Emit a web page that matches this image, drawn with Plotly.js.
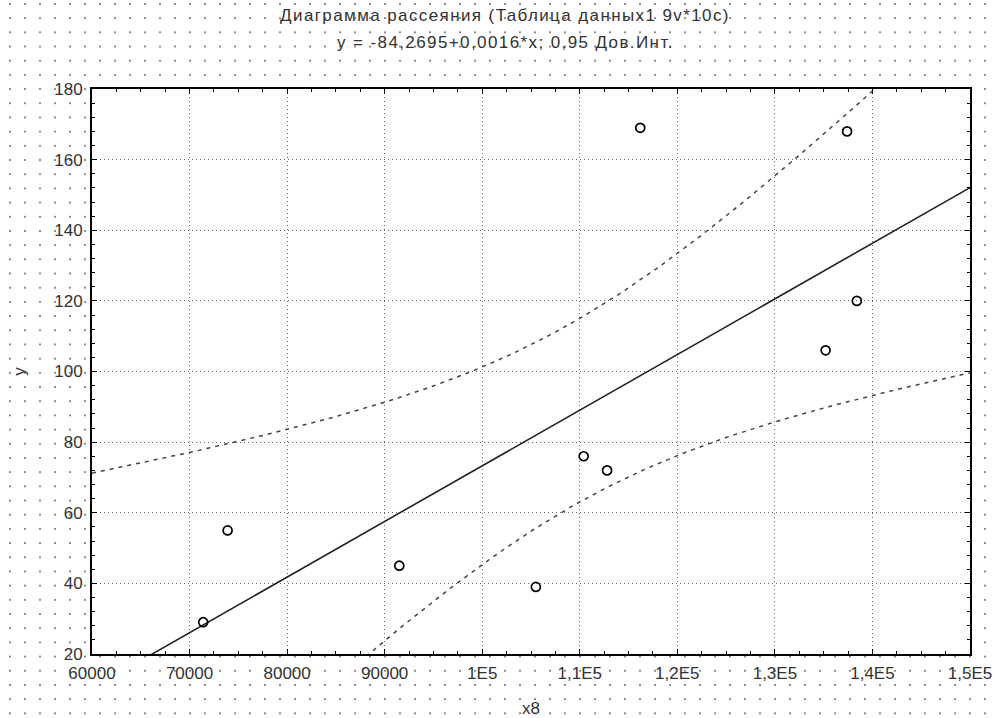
<!DOCTYPE html>
<html>
<head>
<meta charset="utf-8">
<script src="https://cdn.plot.ly/plotly-3.0.1.min.js"></script>
<style>
  html, body { margin:0; padding:0; width:998px; height:718px; overflow:hidden; background:#fff; }
  body {
    background-image: radial-gradient(circle at 1px 1px, #8a8a8a 0.85px, rgba(255,255,255,0) 1.15px);
    background-size: 15px 14.2px;
    background-position: 9px 3px;
  }
  #chart { width:998px; height:718px; }
  .gtitle, .annotation-text { letter-spacing: 1.4px; }
</style>
</head>
<body>
<div id="chart"></div>
<script>
// ---- data ----
const xValues = [71400, 73900, 91500, 105500, 110400, 112800, 116200, 135200, 137400, 138400];
const yValues = [29, 55, 45, 39, 76, 72, 169, 106, 168, 120];

const xTickVals = [60000, 70000, 80000, 90000, 100000, 110000, 120000, 130000, 140000, 150000];
const xTickText = ['60000', '70000', '80000', '90000', '1E5', '1,1E5', '1,2E5', '1,3E5', '1,4E5', '1,5E5'];
const yTickVals = [20, 40, 60, 80, 100, 120, 140, 160, 180];

const titleLine1 = 'Диаграмма рассеяния (Таблица данных1 9v*10c)';
const titleLine2 = 'y = -84,2695+0,0016*x; 0,95 Дов.Инт.';
const xTitle = 'x8';
const yTitle = 'y';

// ---- least-squares fit and 95% confidence band computed from the data ----
const n = xValues.length;
const mx = xValues.reduce((a, b) => a + b, 0) / n;
const my = yValues.reduce((a, b) => a + b, 0) / n;
let sxx = 0, sxy = 0;
for (let i = 0; i < n; i++) { sxx += (xValues[i] - mx) ** 2; sxy += (xValues[i] - mx) * (yValues[i] - my); }
const slope = sxy / sxx;
const intercept = my - slope * mx;
let sse = 0;
for (let i = 0; i < n; i++) { sse += (yValues[i] - (intercept + slope * xValues[i])) ** 2; }
const s = Math.sqrt(sse / (n - 2));
const tCrit = 2.306; // t(0.975, 8)

const fitX = [], fitY = [], upY = [], loY = [];
for (let k = 0; k <= 180; k++) {
  const xx = 60000 + k * 500;
  const yh = intercept + slope * xx;
  const h = tCrit * s * Math.sqrt(1 / n + (xx - mx) ** 2 / sxx);
  fitX.push(xx); fitY.push(yh); upY.push(yh + h); loY.push(yh - h);
}

const FONT = '"Liberation Sans", Arial, sans-serif';
const TXT = '#333';
const FS = 17;

const traces = [
  { x: fitX, y: upY, mode: 'lines', line: { color: '#444', width: 1.5, dash: '4px,5px' }, hoverinfo: 'skip' },
  { x: fitX, y: loY, mode: 'lines', line: { color: '#444', width: 1.5, dash: '4px,5px' }, hoverinfo: 'skip' },
  { x: fitX, y: fitY, mode: 'lines', line: { color: '#222', width: 1.6 }, hoverinfo: 'skip' },
  { x: xValues, y: yValues, mode: 'markers', cliponaxis: false,
    marker: { symbol: 'circle-open', size: 9, color: '#000', line: { width: 1.7, color: '#000' } } }
];

const axisCommon = {
  showline: true, linecolor: '#000', linewidth: 2, mirror: 'allticks',
  ticks: 'inside', ticklen: 5, tickcolor: '#000', tickwidth: 1,
  showgrid: true, gridcolor: '#666', gridwidth: 1, griddash: '1px,3px',
  zeroline: false, tickfont: { family: FONT, size: FS, color: TXT }
};

const layout = {
  width: 998, height: 718,
  margin: { l: 92, r: 28, t: 89, b: 64, pad: 0 },
  paper_bgcolor: 'rgba(0,0,0,0)', plot_bgcolor: '#fff',
  showlegend: false,
  font: { family: FONT, color: TXT },
  title: { text: titleLine1, font: { family: FONT, size: FS, color: TXT },
           x: (505 - 92) / 878, xanchor: 'center', xref: 'paper', y: 1 - 15 / 718, yanchor: 'middle' },
  annotations: [
    { text: titleLine2, xref: 'paper', yref: 'paper', x: (505 - 92) / 878, y: 1 + (89 - 43) / 565,
      xanchor: 'center', yanchor: 'middle', showarrow: false, font: { family: FONT, size: FS, color: TXT } }
  ],
  xaxis: Object.assign({}, axisCommon, {
    range: [60000, 150000], tickmode: 'array', tickvals: xTickVals, ticktext: xTickText,
    ticklabelstandoff: 3,
    minor: { dtick: 2500, ticks: 'inside', ticklen: 3, tickcolor: '#000', showgrid: false },
    title: { text: xTitle, font: { family: FONT, size: FS, color: TXT }, standoff: 28 }
  }),
  yaxis: Object.assign({}, axisCommon, {
    range: [20, 180], tickmode: 'array', tickvals: yTickVals,
    ticklabelstandoff: 4,
    minor: { dtick: 4, ticks: 'inside', ticklen: 3, tickcolor: '#000', showgrid: false },
    title: { text: yTitle, font: { family: FONT, size: FS, color: TXT }, standoff: 24 }
  })
};

Plotly.newPlot('chart', traces, layout, { staticPlot: true, displayModeBar: false });
</script>
</body>
</html>
